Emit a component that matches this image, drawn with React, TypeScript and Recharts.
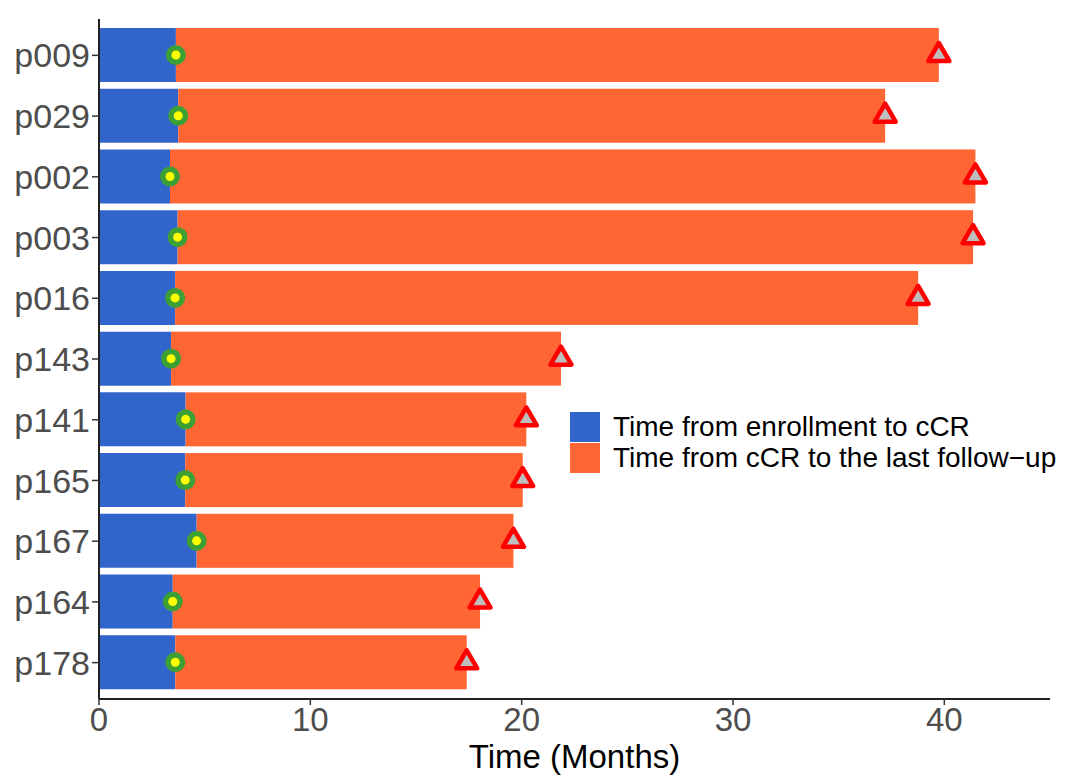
import { Bar, BarChart, Legend, XAxis, YAxis } from "recharts";

const patients = ["p009", "p029", "p002", "p003", "p016", "p143", "p141", "p165", "p167", "p164", "p178"];
// months from enrollment to cCR
const toCcr = [3.64, 3.75, 3.36, 3.72, 3.6, 3.41, 4.1, 4.08, 4.62, 3.49, 3.61];
// months from enrollment to the last follow-up
const toLastFollowUp = [39.74, 37.2, 41.47, 41.36, 38.76, 21.86, 20.22, 20.05, 19.61, 18.03, 17.4];
const xTicks = [0, 10, 20, 30, 40];
const legendOrder = ["ccr", "followUp"];

const data = patients.map((name, i) => ({
	name,
	ccr: toCcr[i],
	followUp: toLastFollowUp[i] - toCcr[i],
}));

const FONT = "'Liberation Sans', Arial, Helvetica, sans-serif";

function FollowUpBar(props: any) {
	const { x, y, width, height, fill } = props;
	const cy = y + height / 2;
	const end = x + width;
	return (
		<g>
			<rect x={x} y={y} width={width} height={height} fill={fill} />
			<circle cx={x} cy={cy} r={7.25} fill='#FFFF00' stroke='#3DA035' strokeWidth={5.5} />
			<path
				d={`M${end},${cy - 12} L${end + 10.5},${cy + 6} L${end - 10.5},${cy + 6} Z`}
				fill='#BEBEBE'
				stroke='#FF0000'
				strokeWidth={4.5}
				strokeLinejoin='round'
			/>
		</g>
	);
}

function KeyLegend({ payload }: any) {
	const items = [...(payload || [])].sort(
		(a: any, b: any) => legendOrder.indexOf(a.dataKey) - legendOrder.indexOf(b.dataKey)
	);
	return (
		<div style={{ fontFamily: FONT, fontSize: 28, color: "#000" }}>
			{items.map((entry: any) => (
				<div key={entry.value} style={{ display: "flex", alignItems: "center", height: 31 }}>
					<span style={{ width: 30, height: 30, background: entry.color, display: "inline-block" }} />
					<span style={{ marginLeft: 13, whiteSpace: "nowrap" }}>{entry.value}</span>
				</div>
			))}
		</div>
	);
}

export default function App() {
	return (
		<div style={{ position: "absolute", left: 0, top: 0, background: "#fff" }}>
			<BarChart
				width={1080}
				height={783}
				data={data}
				layout='vertical'
				margin={{ top: 19, right: 30, bottom: 0, left: 0 }}
				barSize={54}
			>
				<XAxis
					type='number'
					domain={[0, 45]}
					ticks={xTicks}
					allowDataOverflow
					height={84}
					axisLine={{ stroke: "#222", strokeWidth: 2 }}
					tickLine={{ stroke: "#333", strokeWidth: 1.5 }}
					tickSize={6}
					tickMargin={3}
					tick={{ fontSize: 33, fill: "#4D4D4D", fontFamily: FONT }}
					label={{
						value: "Time (Months)",
						position: "insideBottom",
						offset: 15,
						fontSize: 33,
						fill: "#000",
						fontFamily: FONT,
					}}
				/>
				<YAxis
					type='category'
					dataKey='name'
					width={99}
					padding={{ top: 6, bottom: 6 }}
					axisLine={{ stroke: "#222", strokeWidth: 2 }}
					tickLine={{ stroke: "#333", strokeWidth: 1.5 }}
					tickSize={7}
					tickMargin={2}
					tick={{ fontSize: 34, fill: "#4D4D4D", fontFamily: FONT }}
				/>
				<Legend
					layout='vertical'
					align='center'
					verticalAlign='middle'
					wrapperStyle={{ left: 570, top: 411, width: "auto" }}
					content={<KeyLegend />}
				/>
				<Bar
					dataKey='ccr'
					name='Time from enrollment to cCR'
					stackId='t'
					fill='#3265CC'
					isAnimationActive={false}
				/>
				<Bar
					dataKey='followUp'
					name='Time from cCR to the last follow−up'
					stackId='t'
					fill='#FF6633'
					shape={<FollowUpBar />}
					isAnimationActive={false}
				/>
			</BarChart>
		</div>
	);
}
